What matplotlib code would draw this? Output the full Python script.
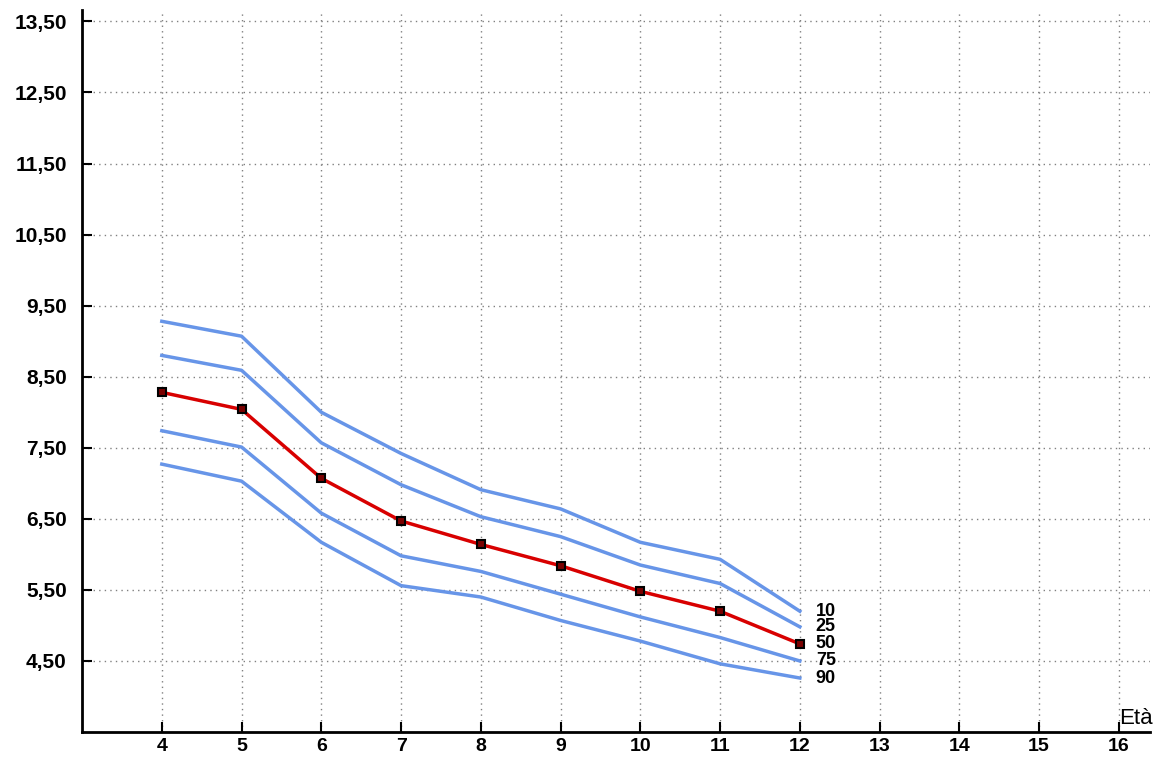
import numpy as np
import matplotlib.pyplot as plt
from matplotlib.transforms import blended_transform_factory, offset_copy

plt.rcParams['font.family'] = ['Liberation Sans', 'DejaVu Sans']

# ages (x axis)
ages = [4, 5, 6, 7, 8, 9, 10, 11, 12]

# percentile curves
p10 = [9.28, 9.07, 8.00, 7.42, 6.91, 6.64, 6.17, 5.93, 5.20]
p25 = [8.80, 8.59, 7.57, 6.98, 6.53, 6.25, 5.85, 5.59, 4.98]
p50 = [8.28, 8.04, 7.07, 6.47, 6.14, 5.84, 5.48, 5.20, 4.74]
p75 = [7.74, 7.51, 6.58, 5.98, 5.76, 5.44, 5.12, 4.83, 4.50]
p90 = [7.27, 7.03, 6.17, 5.56, 5.40, 5.07, 4.78, 4.46, 4.26]

curve_names = ['10', '25', '50', '75', '90']

x_ticks = list(range(4, 17))
y_ticks = [4.5, 5.5, 6.5, 7.5, 8.5, 9.5, 10.5, 11.5, 12.5, 13.5]
y_tick_labels = ['4,50', '5,50', '6,50', '7,50', '8,50', '9,50',
                 '10,50', '11,50', '12,50', '13,50']

blue = '#6795e8'
red = '#d80000'

fig = plt.figure(figsize=(11.59, 7.6), dpi=100)
ax = fig.add_axes([0.0708, 0.0368, 0.9214, 0.950])

curves = [p10, p25, p50, p75, p90]
for name, vals in zip(curve_names, curves):
    if name == '50':
        ax.plot(ages, vals, color=red, linewidth=2.5, marker='s', markersize=6,
                markerfacecolor='#7a0000', markeredgecolor='black',
                markeredgewidth=1.5, zorder=4)
    else:
        ax.plot(ages, vals, color=blue, linewidth=2.5, zorder=3)
    # label at the end of each curve
    ax.text(12.2, vals[-1], name, fontsize=13, fontweight='bold',
            ha='left', va='center', color='black')

ax.set_xlim(3, 16.39)
ax.set_ylim(3.5, 13.66)
ax.set_xticks(x_ticks)
ax.set_xticklabels([str(t) for t in x_ticks])
ax.set_yticks(y_ticks)
ax.set_yticklabels(y_tick_labels)

ax.grid(True, linestyle=(0, (1, 3)), color='#808080', linewidth=1)
ax.set_axisbelow(True)

for s in ['top', 'right']:
    ax.spines[s].set_visible(False)
for s in ['left', 'bottom']:
    ax.spines[s].set_linewidth(2)
    ax.spines[s].set_color('black')

ax.tick_params(axis='both', direction='in', length=7, width=1.5)
ax.tick_params(axis='y', labelsize=15, pad=11)
ax.tick_params(axis='x', labelsize=14, pad=4)
for lbl in ax.get_xticklabels() + ax.get_yticklabels():
    lbl.set_fontweight('bold')

# axis name at the right end of the x axis
trans = offset_copy(blended_transform_factory(ax.transData, ax.transAxes),
                    fig=fig, x=0, y=2, units='points')
ax.text(16, 0, 'Età', transform=trans, fontsize=16, ha='left', va='bottom')

plt.savefig('out.png', dpi=100)
